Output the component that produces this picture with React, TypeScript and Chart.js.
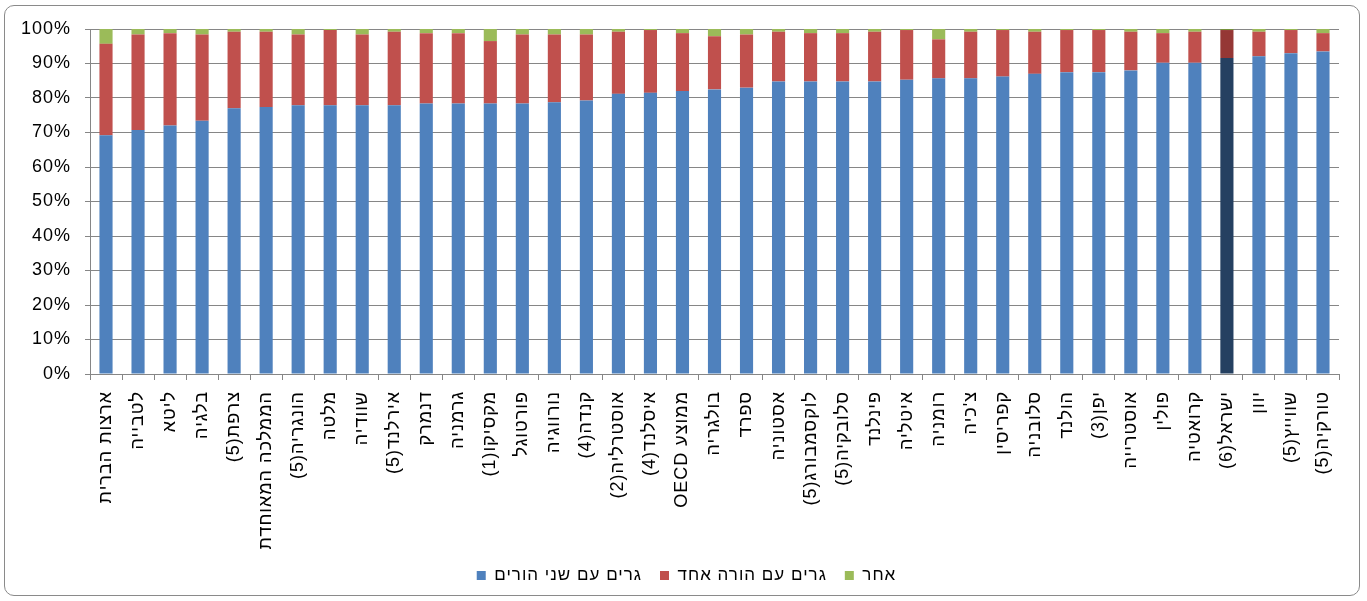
import React, { useEffect, useRef } from "react";
import { Chart, registerables } from "chart.js";

Chart.register(...registerables);

const categories: string[] = [
  "ארצות הברית", "לטבייה", "ליטא", "בלגיה", "צרפת(5)", "הממלכה המאוחדת", "הונגריה(5)", "מלטה", "שוודיה", "אירלנד(5)",
  "דנמרק", "גרמניה", "מקסיקו(1)", "פורטוגל", "נורווגיה", "קנדה(4)", "אוסטרליה(2)", "איסלנד(4)", "ממוצע OECD", "בולגריה",
  "ספרד", "אסטוניה", "לוקסמבורג(5)", "סלובקיה(5)", "פינלנד", "איטליה", "רומניה", "צ'כיה", "קפריסין", "סלובניה",
  "הולנד", "יפן(3)", "אוסטרייה", "פולין", "קרואטיה", "ישראל(6)", "יוון", "שווייץ(5)", "טורקיה(5)",
];

const twoParents: number[] = [
  69.2, 70.7, 72.0, 73.4, 77.0, 77.4, 77.9, 77.9, 77.9, 77.9,
  78.4, 78.4, 78.4, 78.4, 78.8, 79.3, 81.2, 81.5, 82.0, 82.5,
  83.0, 84.8, 84.8, 84.8, 84.8, 85.3, 85.7, 85.7, 86.2, 87.0,
  87.5, 87.5, 88.0, 90.2, 90.2, 91.6, 92.1, 93.0, 93.5,
];

const oneParent: number[] = [
  26.5, 27.7, 26.8, 25.0, 22.2, 21.8, 20.5, 21.8, 20.5, 21.3,
  20.4, 20.4, 18.1, 20.0, 19.6, 19.1, 18.0, 18.2, 16.8, 15.4,
  15.4, 14.4, 14.0, 14.0, 14.4, 14.4, 11.3, 13.5, 13.5, 12.2,
  12.2, 12.2, 11.2, 8.6, 9.0, 8.1, 7.1, 6.7, 5.3,
];

const other: number[] = [
  4.3, 1.6, 1.2, 1.6, 0.8, 0.8, 1.6, 0.3, 1.6, 0.8,
  1.2, 1.2, 3.5, 1.6, 1.6, 1.6, 0.8, 0.3, 1.2, 2.1,
  1.6, 0.8, 1.2, 1.2, 0.8, 0.3, 3.0, 0.8, 0.3, 0.8,
  0.3, 0.3, 0.8, 1.2, 0.8, 0.3, 0.8, 0.3, 1.2,
];

const seriesNames: string[] = ["גרים עם שני הורים", "גרים עם הורה אחד", "אחר"];
const yTicks: number[] = [0, 10, 20, 30, 40, 50, 60, 70, 80, 90, 100];

const highlightLabel = "ישראל(6)";
const normalColors = ["#4F81BD", "#C0504D", "#9BBB59"];
const highlightColors = ["#254061", "#953735", "#76923C"];

const letterSpacingPlugin = {
  id: "letterSpacing",
  beforeUpdate(chart: any) {
    chart.ctx.letterSpacing = "1px";
  },
  afterLayout(chart: any) {
    if (chart.legend) {
      chart.legend.left += 12;
      chart.legend.right += 12;
    }
  },
  beforeDraw(chart: any) {
    chart.ctx.letterSpacing = "1px";
  },
};

export default function App() {
  const canvasRef = useRef<HTMLCanvasElement | null>(null);

  useEffect(() => {
    document.body.style.margin = "0";
    const canvas = canvasRef.current;
    if (!canvas) return;
    const hi = categories.indexOf(highlightLabel);
    const values = [twoParents, oneParent, other];
    const font = "'Liberation Sans', Arial, sans-serif";
    const chart = new Chart(canvas, {
      type: "bar",
      plugins: [letterSpacingPlugin],
      data: {
        labels: categories,
        datasets: values.map((vals, s) => ({
          label: seriesNames[s],
          data: vals,
          backgroundColor: (ctx: any) =>
            ctx.type === "data" && ctx.dataIndex === hi ? highlightColors[s] : normalColors[s],
          borderWidth: 0,
          categoryPercentage: 1,
          barPercentage: 0.41,
        })),
      },
      options: {
        animation: false,
        responsive: false,
        devicePixelRatio: 1,
        layout: { padding: { top: 29, left: 10, right: 28, bottom: 7 } },
        plugins: {
          tooltip: { enabled: false },
          legend: {
            position: "bottom",
            labels: {
              boxWidth: 9,
              boxHeight: 9,
              padding: 18,
              color: "#000",
              font: { family: font, size: 17 },
              generateLabels: () =>
                seriesNames.map((n, i) => ({
                  text: n,
                  fillStyle: normalColors[i],
                  strokeStyle: normalColors[i],
                  lineWidth: 0,
                  hidden: false,
                  datasetIndex: i,
                })),
            },
          },
        },
        scales: {
          x: {
            stacked: true,
            afterFit: (s: any) => {
              s.height = 175;
              s._computeLabelArea = () => undefined;
            },
            grid: {
              display: true,
              drawOnChartArea: false,
              drawTicks: true,
              tickLength: 6,
              color: "#868686",
              offset: true,
            },
            border: { display: true, color: "#868686", width: 1 },
            ticks: {
              autoSkip: false,
              minRotation: 90,
              maxRotation: 90,
              padding: 11,
              color: "#000",
              font: { family: font, size: 18 },
            },
          },
          y: {
            stacked: true,
            min: 0,
            max: 100,
            afterFit: (s: any) => {
              s.width = 80;
            },
            afterBuildTicks: (s: any) => {
              s.ticks = yTicks.map((v) => ({ value: v }));
            },
            grid: { color: "#868686", tickLength: 5, lineWidth: 1 },
            border: { display: true, color: "#868686", width: 1 },
            ticks: {
              padding: 14,
              color: "#000",
              font: { family: font, size: 18 },
              callback: (v: any) => v + "%",
            },
          },
        },
      },
    });
    return () => chart.destroy();
  }, []);

  return (
    <div style={{ position: "fixed", left: 0, top: 0, width: 1367, height: 601, background: "#fff" }}>
      <div
        style={{
          position: "absolute",
          left: 4,
          top: 5,
          width: 1356,
          height: 591,
          border: "1px solid #8a8a8a",
          borderRadius: 10,
          boxSizing: "border-box",
        }}
      />
      <canvas
        ref={canvasRef}
        width={1367}
        height={601}
        dir="rtl"
        style={{ position: "absolute", left: 0, top: 0, width: 1367, height: 601, direction: "rtl" }}
      />
    </div>
  );
}
